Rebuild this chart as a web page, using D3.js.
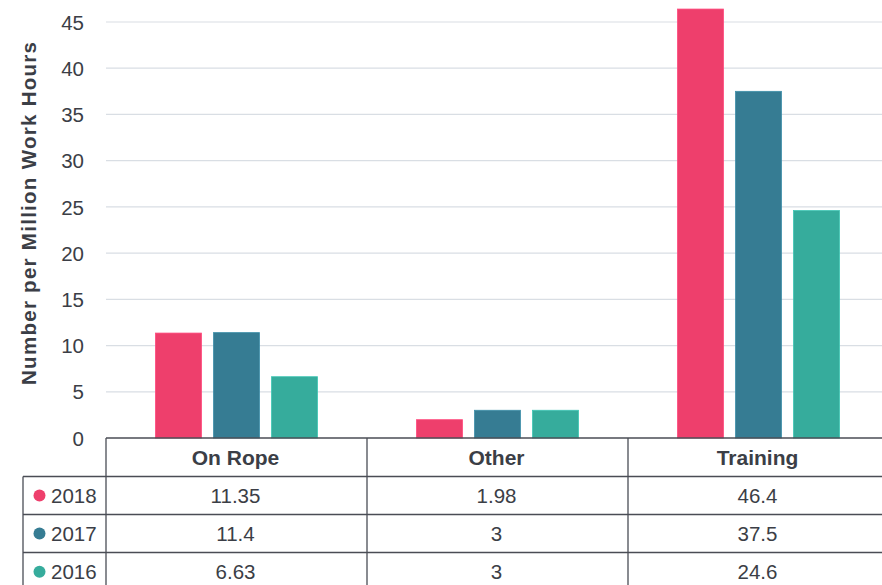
<!DOCTYPE html>
<html><head><meta charset="utf-8">
<script src="https://cdn.jsdelivr.net/npm/d3@7"></script>
<style>body{margin:0;background:#fff}svg{display:block}</style>
</head><body>
<svg id="c" width="882" height="585"></svg>
<script>
const categories = ["On Rope", "Other", "Training"];
const seriesNames = ["2018", "2017", "2016"];
const values2018 = [11.35, 1.98, 46.4];
const values2017 = [11.4, 3, 37.5];
const values2016 = [6.63, 3, 24.6];
const yTicks = [0, 5, 10, 15, 20, 25, 30, 35, 40, 45];
const colors = ["#EE3F6C", "#367C93", "#36AC9C"];
const series = [values2018, values2017, values2016];

const svg = d3.select("#c");
const font = "'Liberation Sans', Arial, Helvetica, sans-serif";
const textCol = "#3b3e46";
const lineCol = "#4a4d55";

const y = d3.scaleLinear().domain([0, 45]).range([438, 22]);
const x0 = d3.scaleBand().domain(categories).range([106, 889]).padding(0);
const x1 = d3.scaleBand().domain(seriesNames).range([0, x0.bandwidth()]).paddingInner(0.207).paddingOuter(0.853);

// gridlines
svg.append("g").selectAll("line").data(yTicks.filter(d => d > 0)).join("line")
  .attr("x1", 106).attr("x2", 882)
  .attr("y1", d => y(d)).attr("y2", d => y(d))
  .attr("stroke", "#d9dee4").attr("stroke-width", 1.2);

// y axis labels
const yAxis = d3.axisLeft(y).tickValues(yTicks).tickSize(0).tickPadding(0);
const ga = svg.append("g").attr("transform", "translate(84,0)").call(yAxis);
ga.select(".domain").remove();
ga.selectAll("text").attr("font-family", font).attr("font-size", 20.5).attr("fill", textCol).attr("dy", "0.35em");

// axis title
svg.append("text").attr("transform", "translate(35.5,213.5) rotate(-90)")
  .attr("text-anchor", "middle").attr("font-family", font).attr("font-weight", "bold")
  .attr("font-size", 20.5).attr("fill", textCol)
  .attr("textLength", 343).attr("lengthAdjust", "spacing")
  .text("Number  per Million Work Hours");

// bars
const gBars = svg.append("g");
categories.forEach((c, ci) => {
  seriesNames.forEach((s, si) => {
    const v = series[si][ci];
    gBars.append("rect")
      .attr("x", x0(c) + x1(s)).attr("width", x1.bandwidth())
      .attr("y", y(v)).attr("height", y(0) - y(v))
      .attr("fill", colors[si]).attr("stroke", d3.color(colors[si]).brighter(0.4)).attr("stroke-width", 0.8);
  });
});

// table
const rowTops = [438, 476.5, 514.5, 552.5, 591];
const tbl = svg.append("g");
tbl.append("line").attr("x1", 106).attr("x2", 889).attr("y1", rowTops[0]).attr("y2", rowTops[0]).attr("stroke", lineCol).attr("stroke-width", 1.3);
[1, 2, 3].forEach(i => {
  tbl.append("line").attr("x1", 23).attr("x2", 889).attr("y1", rowTops[i]).attr("y2", rowTops[i]).attr("stroke", lineCol).attr("stroke-width", 1.3);
});
tbl.append("line").attr("x1", 23).attr("x2", 23).attr("y1", rowTops[1]).attr("y2", 591).attr("stroke", lineCol).attr("stroke-width", 1.3);
categories.forEach(c => {
  tbl.append("line").attr("x1", x0(c)).attr("x2", x0(c)).attr("y1", rowTops[0]).attr("y2", 591).attr("stroke", lineCol).attr("stroke-width", 1.3);
});
categories.forEach(c => {
  tbl.append("text").attr("x", x0(c) + x0.bandwidth() / 2 - 1).attr("y", (rowTops[0] + rowTops[1]) / 2)
    .attr("dy", "0.35em").attr("text-anchor", "middle").attr("font-family", font)
    .attr("font-weight", "bold").attr("font-size", 21).attr("fill", textCol).text(c);
});
seriesNames.forEach((s, si) => {
  const cy = (rowTops[si + 1] + rowTops[si + 2]) / 2;
  tbl.append("circle").attr("cx", 39.5).attr("cy", cy).attr("r", 6).attr("fill", colors[si]);
  tbl.append("text").attr("x", 51).attr("y", cy).attr("dy", "0.35em").attr("font-family", font)
    .attr("font-size", 20.5).attr("fill", textCol).text(s);
  categories.forEach((c, ci) => {
    tbl.append("text").attr("x", x0(c) + x0.bandwidth() / 2 - 1).attr("y", cy).attr("dy", "0.35em")
      .attr("text-anchor", "middle").attr("font-family", font).attr("font-size", 20.5)
      .attr("fill", textCol).text(String(series[si][ci]));
  });
});
</script>
</body></html>
